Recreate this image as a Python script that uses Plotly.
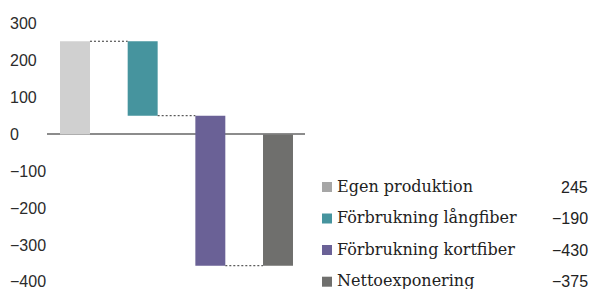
import plotly.graph_objects as go

# ---- data ----
categories = ["Egen produktion", "Förbrukning långfiber", "Förbrukning kortfiber", "Nettoexponering"]
step_values = [253, -202, -407]          # bar heights
legend_values = ["245", "−190", "−430", "−375"]  # values printed in the legend
bar_colors = ["#d0d0d0", "#46949e", "#6a6196", "#6f6f6d"]
legend_colors = ["#a6a6a6", "#46949e", "#6a6196", "#6f6f6d"]
y_ticks = [300, 200, 100, 0, -100, -200, -300, -400]
y_tick_labels = ["300", "200", "100", "0", "−100", "−200", "−300", "−400"]

W, H = 593, 289
BAR_W = 0.443

# cumulative levels
bases, tops = [], []
level = 0
for v in step_values:
    bases.append(level)
    level += v
    tops.append(level)
total = level
bases.append(0)
tops.append(total)

fig = go.Figure()
xs = list(range(len(categories)))
for i, cat in enumerate(categories):
    fig.add_trace(go.Bar(
        x=[xs[i]], y=[tops[i] - bases[i]], base=[bases[i]],
        width=BAR_W, marker=dict(color=bar_colors[i], line=dict(width=0)),
        name=cat, showlegend=False, hoverinfo="skip",
    ))

# connectors
for i in range(len(categories) - 1):
    lvl = tops[i]
    fig.add_trace(go.Scatter(
        x=[xs[i] + BAR_W / 2, xs[i + 1] - BAR_W / 2], y=[lvl, lvl],
        mode="lines", line=dict(color="#333333", width=1, dash="2px,2px"),
        showlegend=False, hoverinfo="skip",
    ))

fig.update_layout(
    width=W, height=H,
    margin=dict(l=0, r=0, t=0, b=0),
    paper_bgcolor="white", plot_bgcolor="white",
    barmode="overlay",
    xaxis=dict(domain=[47 / W, 305 / W], range=[-0.4138, 3.399],
               showticklabels=False, showgrid=False, zeroline=False, showline=False),
    yaxis=dict(range=[-419.2, 364.9], showticklabels=False, showgrid=False,
               zeroline=True, zerolinecolor="#8c8c8c", zerolinewidth=2, showline=False),
    showlegend=False,
)

# y tick labels (left aligned)
for v, t in zip(y_ticks, y_tick_labels):
    fig.add_annotation(x=8 / W, xref="paper", y=v, yref="y", text=t, showarrow=False,
                       xanchor="left", yanchor="middle",
                       font=dict(family="Liberation Sans", size=16, color="#2b2b2b"))

# legend
row_centers = [187, 218.5, 250, 281.7]
for i, cat in enumerate(categories):
    yc = row_centers[i]
    fig.add_shape(type="rect", xref="paper", yref="paper",
                  x0=322 / W, x1=332 / W, y0=1 - (yc + 5) / H, y1=1 - (yc - 5) / H,
                  fillcolor=legend_colors[i], line=dict(width=0))
    fig.add_annotation(x=335 / W, xref="paper", y=1 - (yc - 1) / H, yref="paper",
                       text=cat, showarrow=False, xanchor="left", yanchor="middle",
                       font=dict(family="DejaVu Serif", size=16, color="#222222"))
    fig.add_annotation(x=590 / W, xref="paper", y=1 - yc / H, yref="paper",
                       text=legend_values[i], showarrow=False, xanchor="right", yanchor="middle",
                       font=dict(family="Liberation Sans", size=16, color="#222222"))

fig.write_html("out.html",
               config={"displayModeBar": False, "staticPlot": True},
               post_script="document.body.style.margin='0';document.body.style.padding='0';document.body.style.overflow='hidden';")
